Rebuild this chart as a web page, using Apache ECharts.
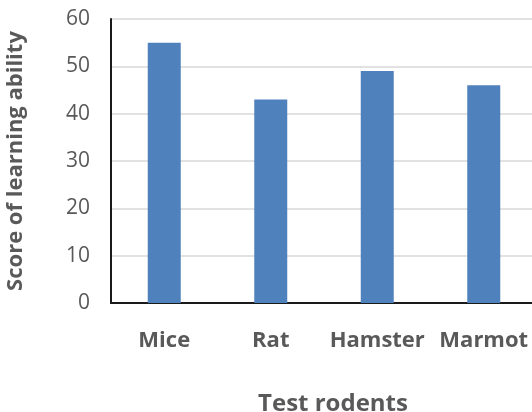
<!DOCTYPE html>
<html>
<head>
<meta charset="utf-8">
<script src="https://cdn.jsdelivr.net/npm/echarts@6/dist/echarts.min.js"></script>
<style>html,body{margin:0;padding:0;background:#fff}#c{width:532px;height:412px}</style>
</head>
<body>
<div id="c"></div>
<script>
const categories = ['Mice', 'Rat', 'Hamster', 'Marmot'];
const scores = [55, 43, 49, 46];
const yTicks = [0, 10, 20, 30, 40, 50, 60];
const xTitle = 'Test rodents';
const yTitle = 'Score of learning ability';

const chart = echarts.init(document.getElementById('c'), null, {renderer: 'canvas'});
const font = '"Open Sans", sans-serif';
chart.setOption({
  animation: false,
  backgroundColor: '#ffffff',
  grid: {left: 111, top: 19, width: 426, height: 284, containLabel: false, outerBoundsMode: 'none'},
  xAxis: {
    type: 'category',
    data: categories,
    name: xTitle,
    nameLocation: 'middle',
    nameGap: 89,
    nameTextStyle: {fontFamily: font, fontWeight: 'bold', fontSize: 24, color: '#595959', padding: [0, 0, 0, 18]},
    axisLine: {lineStyle: {color: '#1a1a1a', width: 2}},
    axisTick: {show: false},
    axisLabel: {fontFamily: font, fontWeight: 'bold', fontSize: 22, color: '#595959', margin: 27, interval: 0},
    splitLine: {show: false}
  },
  yAxis: {
    type: 'value',
    min: yTicks[0],
    max: yTicks[yTicks.length - 1],
    interval: yTicks[1] - yTicks[0],
    name: yTitle,
    nameLocation: 'middle',
    nameGap: 84,
    nameTextStyle: {fontFamily: font, fontWeight: 'bold', fontSize: 22, color: '#595959'},
    axisLine: {show: true, lineStyle: {color: '#1a1a1a', width: 2}},
    axisTick: {show: false},
    axisLabel: {fontFamily: font, fontSize: 21, color: '#595959', margin: 21},
    splitLine: {show: true, lineStyle: {color: '#d9d9d9', width: 1.5}}
  },
  series: [{
    type: 'bar',
    data: scores,
    barWidth: 33,
    itemStyle: {color: '#4f81bd'}
  }]
});
</script>
</body>
</html>
